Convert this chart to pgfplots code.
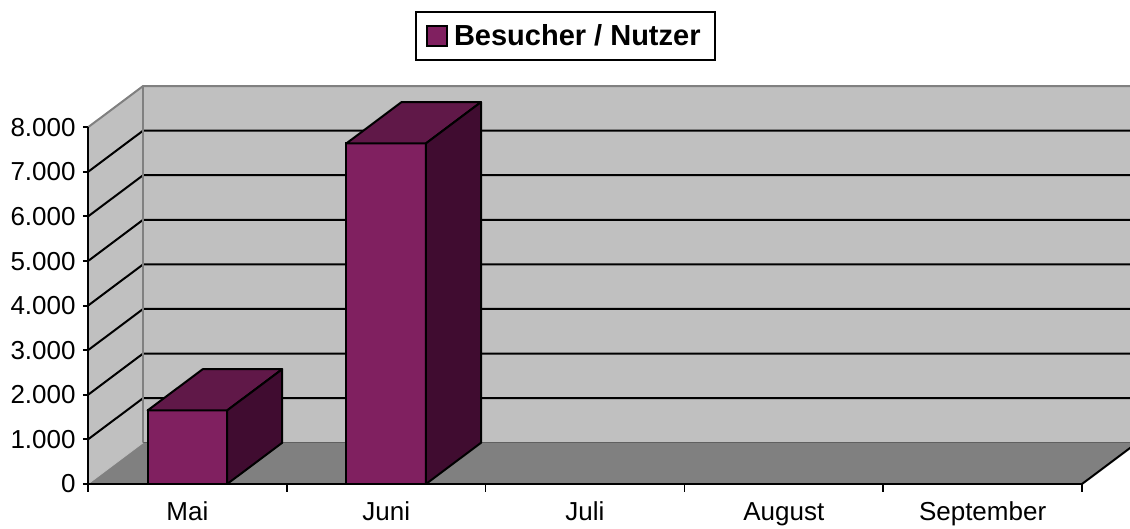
\documentclass[border=0pt]{standalone}
\usepackage{pgfplots}
\pgfplotsset{compat=1.18}
\usepackage{fontspec}
\setmainfont{Liberation Sans}
\definecolor{wall}{HTML}{C0C0C0}
\definecolor{floorc}{HTML}{808080}
\definecolor{edgec}{HTML}{606060}
\definecolor{barfront}{RGB}{128,32,96}
\definecolor{bartop}{RGB}{96,24,72}
\definecolor{barside}{RGB}{64,12,48}
\begin{document}
\begin{tikzpicture}
\useasboundingbox (-44pt,-22.5pt) rectangle (521pt,242pt);
\clip (-44pt,-22.5pt) rectangle (521pt,242pt);
\begin{axis}[
  at={(0pt,0pt)}, anchor=south west,
  scale only axis, width=497pt, height=178.35pt,
  xmin=0, xmax=5, ymin=0, ymax=8000,
  clip=false, axis on top,
  axis lines*=left, axis line style={line width=1pt, black},
  tick align=outside,
  xtick={0,1,2,3,4,5},
  x tick label as interval,
  xticklabels={Mai,Juni,Juli,August,September},
  ytick={0,1000,2000,3000,4000,5000,6000,7000,8000},
  major tick length=4pt,
  xtick style={black, line width=0.75pt},
  ytick style={black, line width=1pt, /pgfplots/major tick length=2.5pt},
  /pgf/number format/assume math mode=true,
  /pgf/number format/1000 sep={.},
  scaled y ticks=false,
  tick label style={font=\fontsize{13}{15}\selectfont},
  yticklabel style={anchor=east, inner sep=0pt, xshift=-2pt},
  xticklabel style={anchor=north, inner sep=0pt, text height=0.75em, text depth=0.2em, yshift=-6.5pt},
  legend style={at={(0.329,1.326)}, anchor=north west, draw=black, line width=1pt,
    font=\bfseries\fontsize{14.5}{16}\selectfont, inner xsep=5pt, inner ysep=4pt},
]
% walls and floor
\addplot[forget plot, fill=wall, draw=none] coordinates {(0,0) (0.277,925) (0.277,8925) (0,8000)} -- cycle;
\addplot[forget plot, fill=wall, draw=none] coordinates {(0.277,925) (5.277,925) (5.277,8925) (0.277,8925)} -- cycle;
\addplot[forget plot, fill=floorc, draw=none] coordinates {(0,0) (5,0) (5.277,925) (0.277,925)} -- cycle;
% gridlines
\addplot[forget plot, black, line width=1pt] coordinates {(0,1000) (0.277,1925) (5.277,1925)};
\addplot[forget plot, black, line width=1pt] coordinates {(0,2000) (0.277,2925) (5.277,2925)};
\addplot[forget plot, black, line width=1pt] coordinates {(0,3000) (0.277,3925) (5.277,3925)};
\addplot[forget plot, black, line width=1pt] coordinates {(0,4000) (0.277,4925) (5.277,4925)};
\addplot[forget plot, black, line width=1pt] coordinates {(0,5000) (0.277,5925) (5.277,5925)};
\addplot[forget plot, black, line width=1pt] coordinates {(0,6000) (0.277,6925) (5.277,6925)};
\addplot[forget plot, black, line width=1pt] coordinates {(0,7000) (0.277,7925) (5.277,7925)};
% edges
\addplot[forget plot, floorc, line width=1pt] coordinates {(0,8000) (0.277,8925) (5.277,8925)};
\addplot[forget plot, floorc, line width=1pt] coordinates {(0.277,925) (0.277,8925)};
\addplot[forget plot, edgec, line width=0.6pt] coordinates {(0.277,925) (5.277,925)};
\addplot[forget plot, wall, line width=0.4pt] coordinates {(0,0) (0.277,925)};
\addplot[forget plot, black, line width=1pt] coordinates {(5,0) (5.277,925)};
% bars: front faces
\addplot[ybar, bar width=0.4, bar shift=0pt, fill=barfront, draw=black, line width=1pt,
  legend image code/.code={\draw[fill=barfront, draw=black, line width=0.6pt] (0pt,-5pt) rectangle (10pt,5pt); \path (0pt,0pt) (11pt,0pt);}]
  coordinates {(0.5,1650) (1.5,7640)};
\addlegendentry{Besucher / Nutzer}
% top faces
\addplot[forget plot, fill=bartop, draw=black, line width=1pt, line join=round] coordinates {(0.3,1650) (0.7,1650) (0.977,2575) (0.577,2575)} -- cycle;
\addplot[forget plot, fill=bartop, draw=black, line width=1pt, line join=round] coordinates {(1.3,7640) (1.7,7640) (1.977,8565) (1.577,8565)} -- cycle;
% side faces
\addplot[forget plot, fill=barside, draw=black, line width=1pt, line join=round] coordinates {(0.7,0) (0.977,925) (0.977,2575) (0.7,1650)} -- cycle;
\addplot[forget plot, fill=barside, draw=black, line width=1pt, line join=round] coordinates {(1.7,0) (1.977,925) (1.977,8565) (1.7,7640)} -- cycle;
\end{axis}
\end{tikzpicture}
\end{document}
